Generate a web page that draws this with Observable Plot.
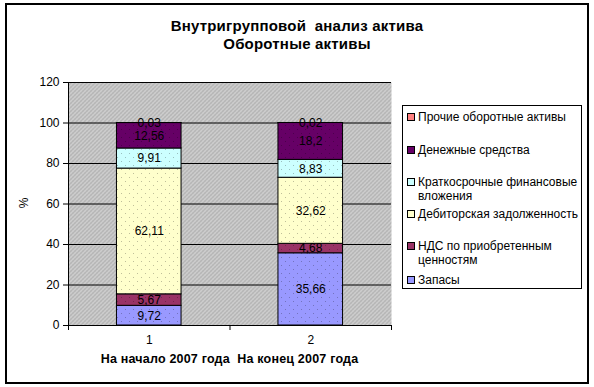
<!DOCTYPE html>
<html>
<head>
<meta charset="utf-8">
<script src="https://cdn.jsdelivr.net/npm/d3@7"></script>
<script src="https://cdn.jsdelivr.net/npm/@observablehq/plot@0.6"></script>
<style>
  html, body { margin: 0; padding: 0; background: #fff; }
  #wrap { position: relative; width: 594px; height: 387px; font-family: "Liberation Sans", Arial, sans-serif; }
  #border { position: absolute; left: 5px; top: 3px; width: 580px; height: 377px; border: 2px solid #000; box-sizing: content-box; }
  #title { position: absolute; left: 0; width: 594px; top: 17px; text-align: center; font-weight: bold; font-size: 15px; line-height: 18px; color: #000; letter-spacing: 0.2px; }
  #xlab { position: absolute; left: 68px; width: 323px; top: 352px; text-align: center; font-weight: bold; font-size: 12.5px; white-space: pre; color: #000; letter-spacing: 0.2px; }
  #ylab { position: absolute; left: 17px; top: 196px; width: 14px; height: 14px; font-size: 12px; line-height: 14px; text-align: center; transform: rotate(-90deg); color: #000; }
  #legend { position: absolute; left: 402px; top: 105px; width: 180px; height: 184px; border: 1px solid #000; box-sizing: border-box; font-size: 12px; color: #000; }
  .li { position: absolute; left: 15px; line-height: 14px; }
  .sw { position: absolute; left: 4px; width: 6px; height: 6px; border: 1px solid #000; }
  #chart { position: absolute; left: 0; top: 0; }
</style>
</head>
<body>
<div id="wrap">
  <div id="chart"></div>
  <div id="border"></div>
  <div id="title">Внутригрупповой&nbsp; анализ актива<br>Оборотные активы</div>
  <div id="xlab"></div>
  <div id="ylab"></div>
  <div id="legend"></div>
</div>
<script>
// ---- data ----
const categories = ["1", "2"];
const periods = ["На начало 2007 года", "На конец 2007 года"];
const yLabel = "%";
const series = [
  "Запасы",
  "НДС по приобретенным ценностям",
  "Дебиторская задолженность",
  "Краткосрочные финансовые вложения",
  "Денежные средства",
  "Прочие оборотные активы"
];
const valuesStart = [9.72, 5.67, 62.11, 9.91, 12.56, 0.03];
const valuesEnd = [35.66, 4.68, 32.62, 8.83, 18.2, 0.02];
const colors = ["#9999FF", "#993366", "#FFFFCC", "#CCFFFF", "#660066", "#FF8080"];
const yTicks = [0, 20, 40, 60, 80, 100, 120];
const legendLabels = [
  ["Прочие оборотные активы"],
  ["Денежные средства"],
  ["Краткосрочные финансовые", "вложения"],
  ["Дебиторская задолженность"],
  ["НДС по приобретенным", "ценностям"],
  ["Запасы"]
];

// ---- table ----
const allValues = [valuesStart, valuesEnd];
const table = [];
categories.forEach((c, i) => {
  series.forEach((s, j) => {
    table.push({cat: c, idx: i, series: s, value: allValues[i][j]});
  });
});
const fmt = v => String(v).replace(".", ",");
const barHalf = 0.2;

const stackOpts = {
  x1: d => d.idx + 0.5 - barHalf,
  x2: d => d.idx + 0.5 + barHalf,
  y: "value",
  z: "series",
  order: series
};

const chart = Plot.plot({
  width: 594,
  height: 387,
  marginLeft: 68,
  marginRight: 203,
  marginTop: 82,
  marginBottom: 62,
  style: {fontFamily: "'Liberation Sans', Arial, sans-serif", fontSize: "12px", color: "#000", background: "transparent"},
  x: {type: "linear", domain: [0, categories.length]},
  y: {domain: [0, 120], ticks: yTicks},
  color: {domain: series, range: colors},
  marks: [
    Plot.frame({fill: "url(#bgpat)", stroke: null}),
    Plot.gridY(yTicks.filter(t => t > 0), {stroke: "#000", strokeOpacity: 1, strokeWidth: 1}),
    Plot.rectY(table, Plot.stackY({...stackOpts, fill: "series", stroke: "#000", strokeWidth: 1})),
    Plot.rectY(table, Plot.stackY({...stackOpts, fill: "url(#dots)"})),
    Plot.text(table, Plot.stackY({
      x: d => d.idx + 0.5, y: "value", z: "series", order: series,
      text: d => fmt(d.value), fill: "#000", fontSize: 12
    })),
    Plot.ruleX([0], {stroke: "#000"}),
    Plot.ruleY([0], {stroke: "#000"}),
    Plot.axisY({ticks: yTicks, tickSize: 5, tickPadding: 4, label: null, fontSize: 12}),
    Plot.axisX({ticks: d3.range(categories.length + 1), tickSize: 5, tickFormat: () => "", label: null}),
    Plot.axisX({ticks: categories.map((c, i) => i + 0.5), tickSize: 0, tickPadding: 10, tickFormat: (d, i) => categories[i], label: null, fontSize: 12})
  ]
});

chart.insertAdjacentHTML("afterbegin", `
<defs>
  <pattern id="bgpat" width="4" height="4" patternUnits="userSpaceOnUse">
    <rect width="4" height="4" fill="#c4c4c4"/>
    <rect x="0" y="0" width="1" height="1" fill="#8c8c8c"/>
    <rect x="2" y="2" width="1" height="1" fill="#8c8c8c"/>
    <rect x="1" y="1" width="1" height="1" fill="#e8e8e8"/>
    <rect x="3" y="3" width="1" height="1" fill="#e8e8e8"/>
  </pattern>
  <pattern id="dots" width="8" height="8" patternUnits="userSpaceOnUse">
    <rect x="1" y="1" width="1" height="1" fill="rgba(0,0,0,0.25)"/>
    <rect x="5" y="5" width="1" height="1" fill="rgba(0,0,0,0.25)"/>
  </pattern>
</defs>`);

document.getElementById("chart").appendChild(chart);
document.getElementById("xlab").textContent = periods.join("  ");
document.getElementById("ylab").textContent = yLabel;

// legend
const legend = document.getElementById("legend");
const legendTops = [4, 37, 69, 101, 133, 167];
const legendOrder = series.slice().reverse();
legendOrder.forEach((s, k) => {
  const idx = series.indexOf(s);
  const sw = document.createElement("div");
  sw.className = "sw";
  sw.style.top = (legendTops[k] + 3) + "px";
  sw.style.background = colors[idx];
  legend.appendChild(sw);
  const li = document.createElement("div");
  li.className = "li";
  li.style.top = legendTops[k] + "px";
  li.innerHTML = legendLabels[k].join("<br>");
  legend.appendChild(li);
});
</script>
</body>
</html>
